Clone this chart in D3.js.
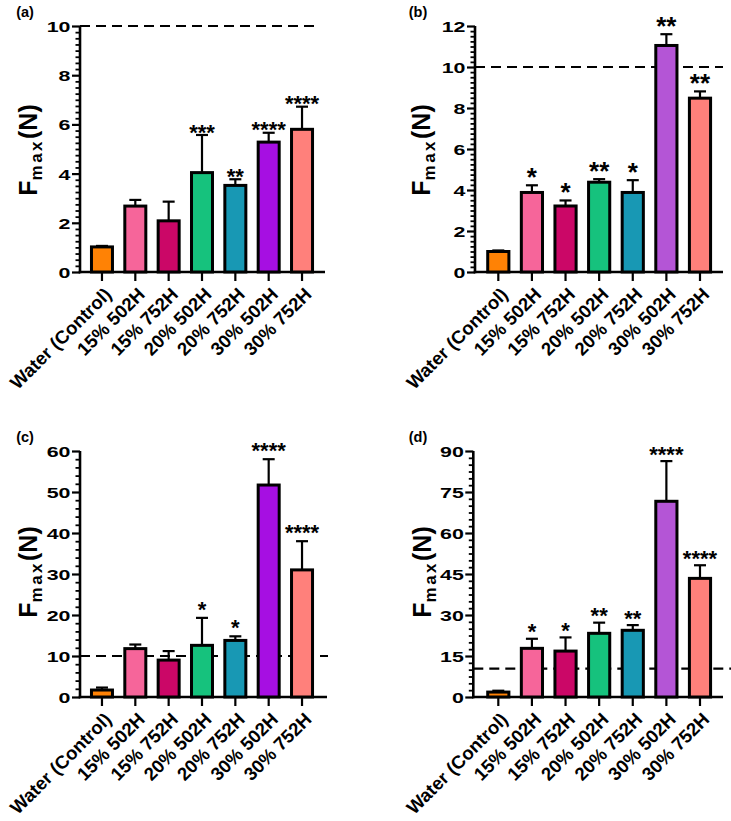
<!DOCTYPE html>
<html>
<head>
<meta charset="utf-8">
<script src="https://cdn.jsdelivr.net/npm/d3@7/dist/d3.min.js"></script>
<style>
  html, body { margin: 0; padding: 0; background: #fff; }
  svg { display: block; }
  text { font-family: "Liberation Sans", Arial, sans-serif; font-weight: bold; fill: #000; }
</style>
</head>
<body>
<svg id="chart" width="731" height="821"></svg>
<script>
// ---------------- data ----------------
const categories = ["Water (Control)", "15% 502H", "15% 752H", "20% 502H", "20% 752H", "30% 502H", "30% 752H"];

const meansA = [1.02, 2.68, 2.08, 4.04, 3.52, 5.28, 5.80];
const sdA    = [0.04, 0.25, 0.78, 1.53, 0.25, 0.38, 0.92];
const sigA   = ["", "", "", "***", "**", "****", "****"];

const meansB = [1.00, 3.88, 3.22, 4.38, 3.88, 11.05, 8.48];
const sdB    = [0.05, 0.35, 0.27, 0.15, 0.60, 0.55, 0.33];
const sigB   = ["", "*", "*", "**", "*", "**", "**"];

const meansC = [1.7, 11.8, 9.0, 12.6, 13.8, 51.7, 31.0];
const sdC    = [0.6, 1.0, 2.2, 6.7, 1.0, 6.3, 7.0];
const sigC   = ["", "", "", "*", "*", "****", "****"];

const meansD = [1.8, 17.8, 16.8, 23.3, 24.4, 71.6, 43.4];
const sdD    = [0.5, 3.5, 5.0, 3.9, 1.9, 14.7, 4.8];
const sigD   = ["", "*", "*", "**", "**", "****", "****"];

const ticksA = [0, 2, 4, 6, 8, 10];
const ticksB = [0, 2, 4, 6, 8, 10, 12];
const ticksC = [0, 10, 20, 30, 40, 50, 60];
const ticksD = [0, 15, 30, 45, 60, 75, 90];

const refLines = [10, 10, 10, 10.4];
const panelLabels = ["(a)", "(b)", "(c)", "(d)"];

const colorsAC = ["#FF8205", "#F6659A", "#CB0767", "#16C27D", "#1898B4", "#A60FE2", "#FF807B"];
const colorsBD = ["#FF8205", "#F6659A", "#CB0767", "#16C27D", "#1898B4", "#B455D6", "#FF807B"];

// ---------------- layout ----------------
const panels = [
  { means: meansA, sd: sdA, sig: sigA, ticks: ticksA, max: 10, minor: 0.25, ref: refLines[0], label: panelLabels[0], colors: colorsAC,
    ax: 80, y0: 272, y1: 26, xr: [85.3, 318.7], xEnd: 325, dashEnd: 317, starGap: 8, starFs: 22,
    lab: [25, 17], title: [28, 150] },
  { means: meansB, sd: sdB, sig: sigB, ticks: ticksB, max: 12, minor: 0.25, ref: refLines[1], label: panelLabels[1], colors: colorsBD,
    ax: 475, y0: 272, y1: 26, xr: [481.5, 716.8], xEnd: 723, dashEnd: 723, starGap: 14, starFs: 26,
    lab: [418, 17], title: [421, 150] },
  { means: meansC, sd: sdC, sig: sigC, ticks: ticksC, max: 60, minor: 2, ref: refLines[2], label: panelLabels[2], colors: colorsAC,
    ax: 80, y0: 697, y1: 451, xr: [85.3, 318.7], xEnd: 327, dashEnd: 328, starGap: 14, starFs: 22,
    lab: [25, 442], title: [28, 572] },
  { means: meansD, sd: sdD, sig: sigD, ticks: ticksD, max: 90, minor: 2.5, ref: refLines[3], label: panelLabels[3], colors: colorsBD,
    ax: 473.3, y0: 697, y1: 451, xr: [481.5, 716.8], xEnd: 723, dashEnd: 731, starGap: 12, starFs: 22,
    lab: [418, 442], title: [422, 572] }
];

const svg = d3.select("#chart");

panels.forEach(p => {
  const g = svg.append("g");
  const x = d3.scaleBand().domain(categories).range(p.xr).paddingInner(0.37).paddingOuter(0.185);
  const y = d3.scaleLinear().domain([0, p.max]).range([p.y0, p.y1]);

  // dashed reference line
  g.append("line")
    .attr("x1", p.ax).attr("x2", p.dashEnd)
    .attr("y1", y(p.ref)).attr("y2", y(p.ref))
    .attr("stroke", "#000").attr("stroke-width", 2.2)
    .attr("stroke-dasharray", "10,6");

  // minor ticks
  const minorVals = d3.range(0, p.max + 1e-9, p.minor).filter(v => !p.ticks.some(t => Math.abs(t - v) < 1e-9));
  const minorAxis = g.append("g").attr("transform", `translate(${p.ax},0)`)
    .call(d3.axisLeft(y).tickValues(minorVals).tickSize(4.5).tickFormat(""));
  minorAxis.select(".domain").remove();
  minorAxis.selectAll("line").attr("stroke", "#000").attr("stroke-width", 1.8);

  // major y axis
  const yAxis = g.append("g").attr("transform", `translate(${p.ax},0)`)
    .call(d3.axisLeft(y).tickValues(p.ticks).tickSize(8).tickSizeOuter(0).tickPadding(2));
  yAxis.select(".domain").attr("stroke", "#000").attr("stroke-width", 2.6)
    .attr("d", `M0,${p.y0 + 1.3}V${p.y1}`);
  yAxis.selectAll(".tick line").attr("stroke", "#000").attr("stroke-width", 2.2);
  yAxis.selectAll(".tick text")
    .attr("x", -9.5 / 1.38)
    .attr("transform", "scale(1.38,1)")
    .style("font-size", "15.5px")
    .attr("dy", "0.36em");

  // x axis
  const xAxis = g.append("g").attr("transform", `translate(0,${p.y0})`)
    .call(d3.axisBottom(x).tickSize(9).tickSizeOuter(0));
  xAxis.select(".domain").attr("stroke", "#000").attr("stroke-width", 2.6)
    .attr("d", `M${p.ax - 1.3},0H${p.xEnd}`);
  xAxis.selectAll(".tick line").attr("stroke", "#000").attr("stroke-width", 2.2);
  xAxis.selectAll(".tick text")
    .attr("x", 0).attr("y", 0).attr("dy", "0.35em")
    .attr("text-anchor", "end")
    .attr("transform", "translate(6,19) rotate(-45)")
    .style("font-size", "18.5px");

  const rows = categories.map((c, i) => ({ c, m: p.means[i], s: p.sd[i], sig: p.sig[i], col: p.colors[i] }));

  // error bars
  const cap = 6;
  const eb = g.append("g");
  eb.selectAll("line.v").data(rows).join("line").attr("class", "v")
    .attr("x1", d => x(d.c) + x.bandwidth() / 2).attr("x2", d => x(d.c) + x.bandwidth() / 2)
    .attr("y1", d => y(d.m)).attr("y2", d => y(d.m + d.s))
    .attr("stroke", "#000").attr("stroke-width", 2.2);
  eb.selectAll("line.h").data(rows).join("line").attr("class", "h")
    .attr("x1", d => x(d.c) + x.bandwidth() / 2 - cap).attr("x2", d => x(d.c) + x.bandwidth() / 2 + cap)
    .attr("y1", d => y(d.m + d.s)).attr("y2", d => y(d.m + d.s))
    .attr("stroke", "#000").attr("stroke-width", 2.2);

  // bars
  g.append("g").selectAll("rect").data(rows).join("rect")
    .attr("x", d => x(d.c)).attr("width", x.bandwidth())
    .attr("y", d => y(d.m)).attr("height", d => y(0) - y(d.m))
    .attr("fill", d => d.col)
    .attr("stroke", "#000").attr("stroke-width", 3);

  // significance stars
  g.append("g").selectAll("text").data(rows.filter(d => d.sig)).join("text")
    .attr("x", d => x(d.c) + x.bandwidth() / 2)
    .attr("y", d => y(d.m + d.s) - p.starGap + 0.575 * p.starFs)
    .attr("text-anchor", "middle")
    .style("font-size", p.starFs + "px")
    .text(d => d.sig);

  // panel label
  g.append("text").attr("x", p.lab[0]).attr("y", p.lab[1])
    .attr("text-anchor", "middle").style("font-size", "14.5px").text(p.label);

  // y title
  const t = g.append("text")
    .attr("transform", `translate(${p.title[0]},${p.title[1]}) rotate(-90)`)
    .attr("text-anchor", "middle").attr("dy", "0.36em")
    .style("font-size", "25px");
  t.append("tspan").text("F");
  t.append("tspan").attr("dy", "5").style("font-size", "17px").attr("letter-spacing", "2.5px").text("max");
  t.append("tspan").attr("dy", "-5").text("(N)");
});
</script>
</body>
</html>
